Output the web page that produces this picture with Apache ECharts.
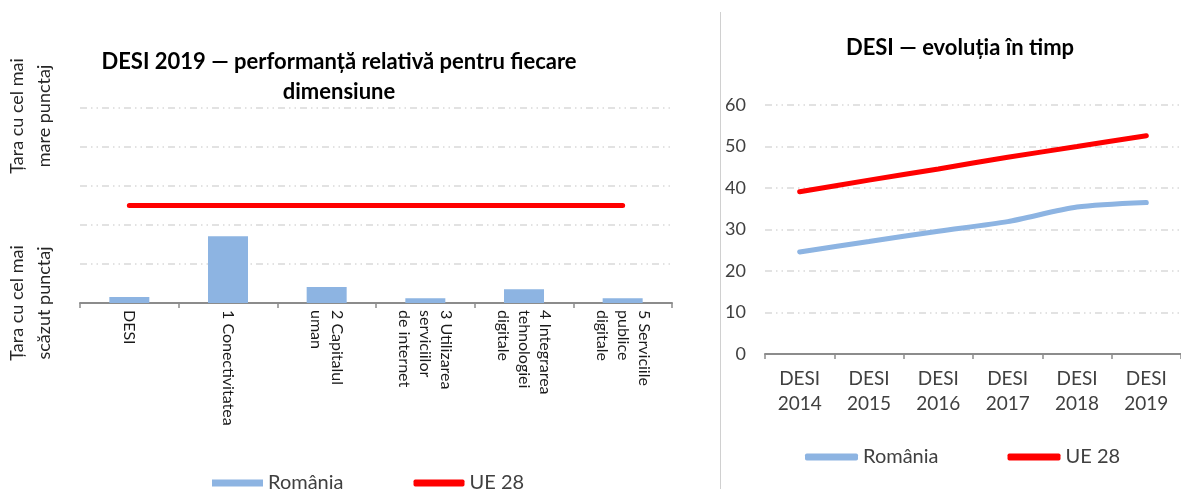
<!DOCTYPE html>
<html>
<head>
<meta charset="utf-8">
<script src="https://cdn.jsdelivr.net/npm/echarts@6/dist/echarts.min.js"></script>
<style>
html,body{margin:0;padding:0;background:#fff;}
#c{width:1181px;height:489px;}
</style>
</head>
<body>
<div id="c"></div>
<script>
// Left chart: DESI 2019 relative performance (0 = lowest country, 100 = highest)
const dimCategories = ['DESI', '1 Conectivitatea', '2 Capitalul\numan', '3 Utilizarea\nserviciilor\nde internet', '4 Integrarea\ntehnologiei\ndigitale', '5 Serviciile\npublice\ndigitale'];
const dimRomania = [3.1, 34.2, 8.2, 2.4, 7.0, 2.4];
const dimUE28 = [50, 50, 50, 50, 50, 50];

// Right chart: DESI over time
const years = ['DESI\n2014', 'DESI\n2015', 'DESI\n2016', 'DESI\n2017', 'DESI\n2018', 'DESI\n2019'];
const evoRomania = [24.6, 27.1, 29.6, 31.9, 35.4, 36.5];
const evoUE28 = [39.1, 41.9, 44.6, 47.4, 50.0, 52.6];
const evoTicks = [0, 10, 20, 30, 40, 50, 60];

const FONT = 'Lato, "Open Sans", sans-serif';
const BLUE = '#8DB4E2';
const RED = '#FF0000';
const gridDash = { color: '#D9D9D9', width: 1.5, type: [7, 4, 1.5, 4, 1.5, 4] };

const chart = echarts.init(document.getElementById('c'));
chart.setOption({
  animation: false,
  backgroundColor: '#fff',
  textStyle: { fontFamily: FONT },
  grid: [
    { left: 80, width: 592, top: 108, height: 195 },
    { left: 765, width: 423, top: 105, height: 249 }
  ],
  xAxis: [
    {
      gridIndex: 0, type: 'category', data: dimCategories,
      axisLine: { lineStyle: { color: '#8C8C8C', width: 2 } },
      axisTick: { show: true, length: 5, lineStyle: { color: '#8C8C8C', width: 1.5 } },
      axisLabel: { rotate: -90, fontSize: 16, color: '#1a1a1a', margin: 7, lineHeight: 21, fontFamily: FONT }
    },
    {
      gridIndex: 1, type: 'category', data: years,
      axisLine: { lineStyle: { color: '#8C8C8C', width: 2 } },
      axisTick: { show: true, length: 5, lineStyle: { color: '#8C8C8C', width: 1.5 } },
      axisLabel: { fontSize: 19, color: '#404040', margin: 12, lineHeight: 25, fontFamily: FONT }
    }
  ],
  yAxis: [
    {
      gridIndex: 0, type: 'value', min: 0, max: 100, interval: 20,
      axisLine: { show: false }, axisTick: { show: false }, axisLabel: { show: false },
      splitLine: { lineStyle: gridDash }
    },
    {
      gridIndex: 1, type: 'value', min: evoTicks[0], max: evoTicks[evoTicks.length - 1], interval: 10,
      axisLine: { show: false }, axisTick: { show: false },
      axisLabel: { fontSize: 18, color: '#404040', margin: 19, fontFamily: FONT },
      splitLine: { lineStyle: gridDash }
    }
  ],
  legend: [
    {
      left: 207, top: 468, itemWidth: 51, itemHeight: 7, itemGap: 70,
      data: [{ name: 'România', icon: 'rect' }, { name: 'UE 28', icon: 'roundRect' }],
      textStyle: { fontSize: 20, color: '#404040', fontFamily: FONT }, selectedMode: false
    },
    {
      left: 800, top: 442, itemWidth: 53, itemHeight: 7, itemGap: 69, icon: 'roundRect',
      data: ['România', 'UE 28'],
      textStyle: { fontSize: 20, color: '#404040', fontFamily: FONT }, selectedMode: false
    }
  ],
  series: [
    {
      name: 'România', type: 'bar', xAxisIndex: 0, yAxisIndex: 0, data: dimRomania,
      barWidth: 40, itemStyle: { color: BLUE }
    },
    {
      name: 'UE 28', type: 'line', xAxisIndex: 0, yAxisIndex: 0, data: dimUE28,
      symbol: 'none', itemStyle: { color: RED },
      lineStyle: { color: RED, width: 5, cap: 'round' }
    },
    {
      name: 'România', type: 'line', xAxisIndex: 1, yAxisIndex: 1, data: evoRomania,
      symbol: 'none', smooth: 0.25, itemStyle: { color: BLUE },
      lineStyle: { color: BLUE, width: 5, cap: 'round' }
    },
    {
      name: 'UE 28', type: 'line', xAxisIndex: 1, yAxisIndex: 1, data: evoUE28,
      symbol: 'none', smooth: 0.25, itemStyle: { color: RED },
      lineStyle: { color: RED, width: 5, cap: 'round' }
    }
  ],
  graphic: [
    { type: 'line', shape: { x1: 720.5, y1: 12, x2: 720.5, y2: 489 }, style: { stroke: '#D0D0D0', lineWidth: 1 } },
    {
      type: 'text', x: 339, y: 77,
      style: { text: 'DESI 2019 — performanță relativă pentru fiecare\ndimensiune', font: 'bold 22px ' + FONT,
        fill: '#000', textAlign: 'center', textVerticalAlign: 'middle', lineHeight: 30 }
    },
    {
      type: 'text', x: 960, y: 48,
      style: { text: 'DESI — evoluția în timp', font: 'bold 22px ' + FONT, fill: '#000',
        textAlign: 'center', textVerticalAlign: 'middle' }
    },
    {
      type: 'text', x: 31, y: 116, rotation: Math.PI / 2,
      style: { text: 'Țara cu cel mai\nmare punctaj', font: '18px ' + FONT, fill: '#262626',
        textAlign: 'center', textVerticalAlign: 'middle', lineHeight: 27 }
    },
    {
      type: 'text', x: 31, y: 303, rotation: Math.PI / 2,
      style: { text: 'Țara cu cel mai\nscăzut punctaj', font: '18px ' + FONT, fill: '#262626',
        textAlign: 'center', textVerticalAlign: 'middle', lineHeight: 27 }
    }
  ]
});
</script>
</body>
</html>
